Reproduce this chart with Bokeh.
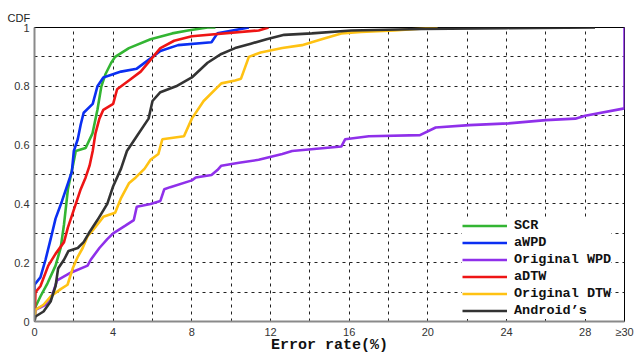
from bokeh.plotting import figure
from bokeh.models import FixedTicker, CustomJSTickFormatter, Legend, LegendItem, Range1d
from bokeh.embed import file_html
from bokeh.resources import INLINE

# ---- data ----
scr_x = [0, 0.05, 0.3, 0.66, 1.07, 1.33, 1.5, 1.7, 1.95, 2.1, 2.6, 2.95, 3.2, 3.4, 3.6, 3.9, 4.1, 4.8, 5.9, 7.0, 7.8, 8.8, 9.2]
scr_y = [0, 0.05, 0.085, 0.13, 0.19, 0.25, 0.33, 0.45, 0.53, 0.58, 0.59, 0.64, 0.72, 0.80, 0.84, 0.88, 0.90, 0.93, 0.96, 0.98, 0.99, 1.0, 1.0]

awpd_x = [0, 0, 0.3, 0.56, 0.82, 1.07, 1.4, 1.7, 1.9, 2.0, 2.2, 2.35, 2.5, 2.96, 3.2, 3.5, 4.4, 5.2, 5.8, 6.4, 7.3, 9.0, 9.3, 10.9]
awpd_y = [0, 0.125, 0.15, 0.21, 0.28, 0.35, 0.41, 0.47, 0.51, 0.58, 0.62, 0.67, 0.71, 0.74, 0.80, 0.83, 0.85, 0.86, 0.89, 0.92, 0.94, 0.95, 0.98, 1.0]

owpd_x = [0, 0.05, 0.56, 0.9, 1.15, 1.84, 2.7, 2.86, 3.3, 3.7, 4.0, 4.6, 5.05, 5.2, 5.9, 6.4, 6.6, 6.9, 8.0, 8.2, 9.0, 9.3, 9.5, 10.4, 11.4, 12.6, 13.1, 15.6, 15.8, 17.0, 19.6, 20.4, 22.1, 24.1, 26.0, 27.5, 28.0, 30.0, 30.0]
owpd_y = [0, 0.04, 0.057, 0.09, 0.14, 0.166, 0.19, 0.21, 0.25, 0.28, 0.30, 0.325, 0.345, 0.39, 0.40, 0.41, 0.45, 0.457, 0.48, 0.49, 0.498, 0.515, 0.53, 0.54, 0.55, 0.57, 0.58, 0.595, 0.62, 0.63, 0.634, 0.66, 0.668, 0.674, 0.685, 0.69, 0.70, 0.725, 1.0]

adtw_x = [0, 0.05, 0.3, 0.7, 1.07, 1.5, 1.7, 1.85, 2.1, 2.35, 2.6, 2.8, 2.96, 3.1, 3.3, 3.5, 4.0, 4.2, 4.8, 5.4, 5.9, 6.4, 7.1, 8.0, 11.4, 11.9]
adtw_y = [0, 0.10, 0.12, 0.19, 0.23, 0.27, 0.32, 0.35, 0.40, 0.45, 0.49, 0.53, 0.58, 0.64, 0.69, 0.72, 0.74, 0.79, 0.82, 0.85, 0.89, 0.93, 0.955, 0.97, 0.99, 1.0]

odtw_x = [0, 0.05, 0.46, 0.82, 1.33, 1.68, 1.94, 2.2, 2.45, 2.7, 2.96, 3.2, 3.5, 4.1, 4.4, 4.8, 5.15, 5.6, 5.9, 6.3, 6.5, 7.6, 8.0, 8.6, 9.5, 10.2, 10.5, 10.9, 11.5, 12.6, 13.6, 14.6, 15.6, 16.6, 18.3, 20.5]
odtw_y = [0, 0.04, 0.057, 0.085, 0.11, 0.125, 0.18, 0.22, 0.25, 0.29, 0.31, 0.33, 0.356, 0.37, 0.42, 0.47, 0.49, 0.52, 0.55, 0.57, 0.62, 0.63, 0.69, 0.75, 0.81, 0.82, 0.826, 0.90, 0.915, 0.93, 0.94, 0.96, 0.98, 0.985, 0.99, 1.0]

andr_x = [0, 0.05, 0.46, 0.82, 1.07, 1.2, 1.5, 1.73, 2.2, 2.5, 2.76, 3.2, 3.7, 4.0, 4.4, 4.7, 5.2, 5.8, 6.0, 6.4, 7.2, 8.0, 8.8, 9.5, 10.2, 11.0, 11.8, 12.7, 14.1, 16.1, 19.7, 24.0, 28.5]
andr_y = [0, 0.017, 0.034, 0.068, 0.12, 0.18, 0.21, 0.24, 0.25, 0.27, 0.30, 0.345, 0.40, 0.46, 0.52, 0.58, 0.63, 0.69, 0.75, 0.78, 0.80, 0.83, 0.88, 0.91, 0.93, 0.945, 0.96, 0.975, 0.98, 0.99, 0.995, 0.998, 1.0]

series_names = ["SCR", "aWPD", "Original WPD", "aDTW", "Original DTW", "Android\u2019s"]
series_colors = ["#33b533", "#0b2ff2", "#8f30ea", "#ee1515", "#ffc213", "#333333"]
series_x = [scr_x, awpd_x, owpd_x, adtw_x, odtw_x, andr_x]
series_y = [scr_y, awpd_y, owpd_y, adtw_y, odtw_y, andr_y]

x_label_ticks = [0, 4, 8, 12, 16, 20, 24, 28, 30]
x_grid_ticks = [2, 4, 6, 8, 10, 12, 14, 16, 18, 20, 22, 24, 26, 28]
y_label_ticks = [0, 0.2, 0.4, 0.6, 0.8, 1]
y_grid_ticks = [0.1, 0.2, 0.3, 0.4, 0.5, 0.6, 0.7, 0.8, 0.9]

p = figure(width=636, height=356, output_backend="svg", toolbar_location=None,
           x_range=Range1d(0, 30), y_range=Range1d(0, 1),
           min_border_left=34, min_border_right=12, min_border_top=27, min_border_bottom=34)
p.background_fill_color = "white"
p.border_fill_color = "white"
p.outline_line_color = "black"
p.outline_line_width = 1

# "CDF" caption above the y axis
p.title.text = "CDF"
p.title.align = "left"
p.title.offset = -27
p.title.standoff = 8
p.title.text_font = "Liberation Sans"
p.title.text_font_size = "11px"
p.title.text_font_style = "normal"
p.title.text_color = "#222222"

for ax, ticks in ((p.xaxis, x_label_ticks), (p.yaxis, y_label_ticks)):
    ax.ticker = FixedTicker(ticks=ticks)
    ax.formatter = CustomJSTickFormatter(code="return tick >= 30 ? '\u226530' : String(Number(tick.toFixed(1)));")
    ax.major_tick_line_color = None
    ax.minor_tick_line_color = None
    ax.major_tick_out = 0
    ax.major_tick_in = 0
    ax.minor_tick_out = 0
    ax.minor_tick_in = 0
    ax.axis_line_color = "#8a8a8a"
    ax.axis_line_width = 2
    ax.major_label_text_font = "Liberation Sans"
    ax.major_label_text_font_size = "11px"
    ax.major_label_text_color = "#333333"
    ax.major_label_standoff = 5

p.xaxis.major_label_standoff = 4
p.xaxis.axis_label = "Error rate(%)"
p.xaxis.axis_label_standoff = -4
p.xaxis.axis_label_text_font = "Liberation Mono"
p.xaxis.axis_label_text_font_style = "bold"
p.xaxis.axis_label_text_font_size = "15px"
p.xaxis.axis_label_text_color = "#111111"

p.xgrid.ticker = FixedTicker(ticks=x_grid_ticks)
p.ygrid.ticker = FixedTicker(ticks=y_grid_ticks)
for g in (p.xgrid, p.ygrid):
    g.grid_line_color = "#222222"
    g.grid_line_dash = "3 4"
    g.grid_line_width = 1

items = []
for name, col, xs, ys in zip(series_names, series_colors, series_x, series_y):
    r = p.line(xs, ys, line_color=col, line_width=2.6)
    items.append(LegendItem(label=name, renderers=[r]))

legend = Legend(items=items, location=(428, 2), padding=5, margin=0, spacing=0,
                glyph_width=45, glyph_height=17, label_height=17, label_standoff=7,
                border_line_color=None, background_fill_color="white", background_fill_alpha=1,
                label_text_font="Liberation Mono", label_text_font_style="bold",
                label_text_font_size="13.5px", label_text_color="#111111")
p.add_layout(legend)

open("out.html", "w").write(file_html(p, INLINE))
